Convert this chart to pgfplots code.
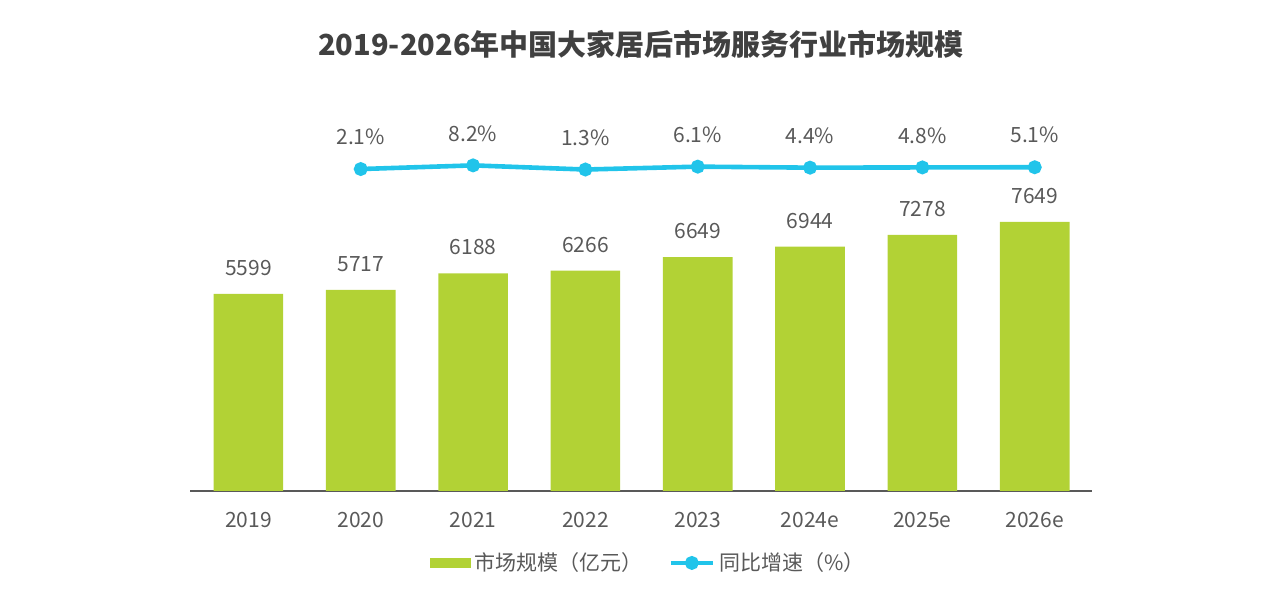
\documentclass[border=0pt]{standalone}
\usepackage{fontspec}
\setmainfont{Noto Sans CJK SC}
\usepackage{pgfplots}
\pgfplotsset{compat=1.18}
\definecolor{barg}{RGB}{178,210,53}
\definecolor{linec}{RGB}{33,196,234}
\definecolor{txt}{RGB}{89,89,89}
\definecolor{ttl}{RGB}{64,64,64}
\begin{document}
\begin{tikzpicture}
\useasboundingbox (0pt,0pt) rectangle (642pt,296.5pt);
\node[font=\bfseries\fontsize{14.5}{17}\selectfont, text=ttl] at (320.5pt,274.5pt) {2019-2026年中国大家居后市场服务行业市场规模};
\begin{axis}[
  at={(95pt,51pt)}, anchor=south west,
  scale only axis, width=451pt, height=195.5pt,
  xmin=-0.52, xmax=7.51, ymin=0, ymax=11113,
  axis x line*=bottom, axis y line=none,
  x axis line style={draw=txt, line width=0.6pt, -},
  xtick={0,...,7},
  xticklabels={2019,2020,2021,2022,2023,2024e,2025e,2026e},
  major tick length=0pt,
  xticklabel style={font=\fontsize{10.5}{12}\selectfont, text=txt, yshift=-7pt},
  /pgf/number format/assume math mode=true,
  /pgf/number format/1000 sep={},
  ybar, bar width=0.62,
  nodes near coords,
  every node near coord/.append style={font=\fontsize{10.5}{12}\selectfont, text=txt, anchor=center, yshift=13pt},
]
\addplot[fill=barg, draw=none] coordinates {(0,5599) (1,5717) (2,6188) (3,6266) (4,6649) (5,6944) (6,7278) (7,7649)};
\end{axis}
\begin{axis}[
  at={(95pt,51pt)}, anchor=south west,
  scale only axis, width=451pt, height=195.5pt,
  xmin=-0.52, xmax=7.51, ymin=-534.5, ymax=117.2,
  hide axis,
  /pgf/number format/assume math mode=true,
  legend style={at={(0.509,-0.184)}, anchor=center, draw=none, fill=none,
    legend columns=2, font=\fontsize{10.5}{12}\selectfont, text=txt,
    /tikz/every even column/.append style={column sep=11pt},
    inner sep=0pt, legend cell align=left},
]
\addlegendimage{legend image code/.code={\fill[barg] (0pt,-2.2pt) rectangle (20pt,2.2pt);}}
\addlegendentry{市场规模（亿元）}
\addplot[linec, line width=2.3pt, mark=*, mark size=2.3pt, mark options={fill=linec, draw=linec},
  nodes near coords={\pgfmathprintnumber[fixed,precision=1,fixed zerofill]{\pgfplotspointmeta}\%},
  every node near coord/.append style={font=\fontsize{10.5}{12}\selectfont, text=txt, anchor=center, yshift=16pt},
  legend image code/.code={\draw[linec, line width=2.3pt] (0pt,0pt) -- (21pt,0pt); \fill[linec] (10.5pt,0pt) circle (2.3pt);}]
  coordinates {(1,2.1) (2,8.2) (3,1.3) (4,6.1) (5,4.4) (6,4.8) (7,5.1)};
\addlegendentry{同比增速（\%）}
\end{axis}
\end{tikzpicture}
\end{document}
